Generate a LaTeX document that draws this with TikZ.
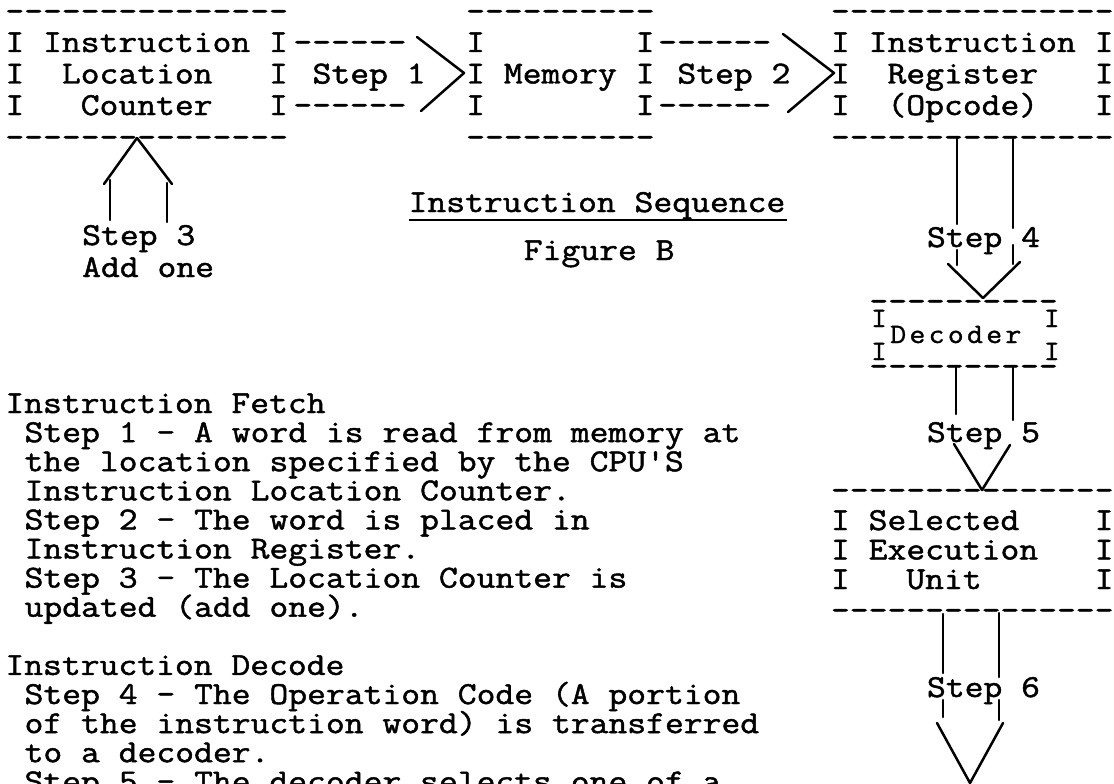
\documentclass[tikz,border=0pt]{standalone}
\usepackage{fontspec}
\setmonofont{Latin Modern Mono}[FakeBold=1.5, FakeStretch=1.1429]
\newfontfamily\smallmono{Latin Modern Mono}[FakeBold=1.3, FakeStretch=1.1]
\usetikzlibrary{calc}

% typewriter faces: normal and the smaller element used for the decoder
\newcommand\tw{\ttfamily\fontsize{32}{32}\selectfont\frenchspacing}
\newcommand\twsmall{\smallmono\fontsize{28}{28}\selectfont}
% a run of typed hyphens, kept apart so they never join
\newcommand\dashes[1]{\foreach \k in {1,...,#1}{-\kern0pt}}
% one character centred in a typewriter cell
\newcommand\cell[1]{\makebox[19.2pt]{#1}}
% a typed line: name, column, baseline, text
\newcommand\tl[4]{\node[typed] (#1) at ({5.4+19.2*#2},#3) {#4};}
% baseline of a line of the notes
\newcommand\nr[1]{413+29.1*#1}

\tikzset{
  typed/.style={font=\tw, inner sep=0pt, outer sep=0pt, anchor=base west},
  smalltyped/.style={typed, font=\twsmall},
  pen/.style={line width=2.5pt, line cap=round, line join=round},
  rule/.style={line width=2pt},
}

\begin{document}
\begin{tikzpicture}[x=1pt,y=-1pt]
\fill[white] (0,0) rectangle (1114,784);
\useasboundingbox (0,0) rectangle (1114,784);
\clip (0,0) rectangle (1114,784);

% Instruction Location Counter
\tl{ilcTop}{0}{21}{\dashes{15}}
\tl{ilc1}{0}{52}{I~Instruction~I}
\tl{ilc2}{0}{83.5}{I~~Location~~~I}
\tl{ilc3}{0}{115}{I~~~Counter~~~I}
\tl{ilcBot}{0}{147}{\dashes{15}}

% Memory
\tl{memTop}{24}{21}{\dashes{10}}
\tl{mem1}{24}{52}{I~~~~~~~~I}
\tl{mem2}{24}{83.5}{I~Memory~I}
\tl{mem3}{24}{115}{I~~~~~~~~I}
\tl{memBot}{24}{147}{\dashes{10}}

% Instruction Register
\tl{irTop}{43}{21}{\dashes{15}}
\tl{ir1}{43}{52}{I~Instruction~I}
\tl{ir2}{43}{83.5}{I~~Register~~~I}
\tl{ir3}{43}{115}{I~~(Opcode)~~~I}
\tl{irBot}{43}{147}{\dashes{15}}

% Step 1 and Step 2 block arrows
\tl{s1a}{15}{52}{\dashes{6}}
\tl{s1lab}{16}{83.5}{Step~1}
\tl{s1b}{15}{115}{\dashes{6}}
\tl{s2a}{34}{52}{\dashes{6}}
\tl{s2lab}{35}{83.5}{Step~2}
\tl{s2b}{34}{115}{\dashes{6}}
\coordinate (s1p) at (417,37);
\coordinate (s1tip) at (464,73);
\coordinate (s1q) at (421,111);
\draw[pen] (s1p) -- (s1tip) -- (s1q);
\coordinate (s2p) at (783,34);
\coordinate (s2tip) at (834,73);
\coordinate (s2q) at (788,112);
\draw[pen] (s2p) -- (s2tip) -- (s2q);

% Step 3: add one, back into the counter
\tl{s3lab}{4}{245}{Step~3}
\tl{s3add}{4}{277}{Add~one}
\coordinate (s3tip) at (137,138);
\draw[pen] (110,220) -- (110,180);
\draw[pen] (167,222) -- (167,183);
\draw[pen] (104,184) -- (s3tip) -- (172,184);

% title
\tl{title}{21}{212}{Instruction~Sequence}
\draw[rule] ($(title.base west)+(0,8)$) -- ($(title.base east)+(2,8)$);
\tl{fig}{27}{260}{Figure~B}

% Step 4: opcode to the decoder
\tl{s4lab}{48}{247}{Step~4}
\coordinate (s4tip) at (983,298);
\draw[pen] (957,138) -- (957,224);
\draw[pen] (957,250) -- (957,265);
\draw[pen] (1013,138) -- (1013,228);
\draw[pen] (1013,245) -- (1013,264);
\draw[pen] (948,264) -- (s4tip) -- (1020,262);

% Decoder
\tl{decTop}{45}{311}{\dashes{10}}
\node[smalltyped] (decIa) at ({5.4+19.2*45},327) {\cell{I}};
\node[smalltyped] (decIb) at ({5.4+19.2*45},360) {\cell{I}};
\node[smalltyped] (decIc) at ({5.4+19.2*54},327) {\cell{I}};
\node[smalltyped] (decId) at ({5.4+19.2*54},360) {\cell{I}};
\node[smalltyped] (decLab) at ({5.4+19.2*46},343)
  {\cell{D}\cell{e}\cell{c}\cell{o}\cell{d}\cell{e}\cell{r}};
\tl{decBot}{45}{376}{\dashes{10}}

% Step 5: decoder to the execution unit
\tl{s5lab}{48}{442}{Step~5}
\coordinate (s5tip) at (982,490);
\draw[pen] (956,367) -- (956,414);
\draw[pen] (1013,367) -- (1013,420);
\draw[pen] (954,444) -- (s5tip) -- (1010,445);

% Selected Execution Unit
\tl{exTop}{43}{500}{\dashes{15}}
\tl{ex1}{43}{530}{I~Selected~~~~I}
\tl{ex2}{43}{559.5}{I~Execution~~~I}
\tl{ex3}{43}{589}{I~~~Unit~~~~~~I}
\tl{exBot}{43}{620}{\dashes{15}}

% Step 6
\tl{s6lab}{48}{697}{Step~6}
\coordinate (s6tip) at (970,783);
\draw[pen] (943,614) -- (943,673);
\draw[pen] (999,613) -- (999,677);
\draw[pen] (943,700) -- (943,717);
\draw[pen] (999,700) -- (999,720);
\draw[pen] (937,723) -- (s6tip) -- (1003,723);

% notes
\tl{f0}{0}{\nr{0}}{Instruction Fetch}
\tl{f1}{1}{\nr{1}}{Step 1 - A word is read from memory at}
\tl{f2}{1}{\nr{2}}{the location specified by the CPU'S}
\tl{f3}{1}{\nr{3}}{Instruction Location Counter.}
\tl{f4}{1}{\nr{4}}{Step 2 - The word is placed in}
\tl{f5}{1}{\nr{5}}{Instruction Register.}
\tl{f6}{1}{\nr{6}}{Step 3 - The Location Counter is}
\tl{f7}{1}{\nr{7}}{updated (add one).}
\tl{d0}{0}{\nr{9}}{Instruction Decode}
\tl{d1}{1}{\nr{10}}{Step 4 - The Operation Code (A portion}
\tl{d2}{1}{\nr{11}}{of the instruction word) is transferred}
\tl{d3}{1}{\nr{12}}{to a decoder.}
\tl{d4}{1}{\nr{13}}{Step 5 - The decoder selects one of a}
\end{tikzpicture}
\end{document}
